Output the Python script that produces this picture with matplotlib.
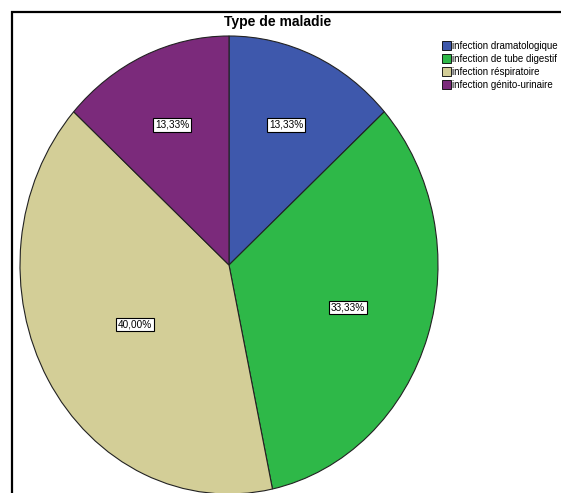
import matplotlib
matplotlib.use('Agg')
import matplotlib.pyplot as plt
import numpy as np
from matplotlib.patches import Rectangle

plt.rcParams['font.family'] = ['Liberation Sans', 'DejaVu Sans']

categories = ['infection dramatologique', 'infection de tube digestif',
              'infection réspiratoire', 'infection génito-urinaire']
counts = [2, 5, 6, 2]
colors = ['#3E58AC', '#2EB848', '#D3CE97', '#7B2A7B']
title = 'Type de maladie'

W, H = 561, 493
fig = plt.figure(figsize=(W / 100, H / 100), dpi=100)

# outer frame (cut off at right and bottom like the original)
fig.patches.append(Rectangle((12 / W, -0.1), 1.1, 1 - 12 / H + 0.1,
                             transform=fig.transFigure, fill=False,
                             edgecolor='black', linewidth=1.6))

ax = fig.add_axes([20 / W, (H - 494) / H, 418 / W, 458 / H])
wedges, texts, autotexts = ax.pie(
    counts, colors=colors, startangle=90, counterclock=False,
    autopct=lambda p: f'{p:.2f}%'.replace('.', ','),
    wedgeprops=dict(edgecolor='#222222', linewidth=0.8),
    textprops=dict(fontsize=7.2))
# labels sit near each slice's centroid
label_dist = [0.67, 0.6, 0.52, 0.67]
for w, t, d in zip(wedges, autotexts, label_dist):
    a = np.deg2rad((w.theta1 + w.theta2) / 2)
    t.set_position((d * np.cos(a), d * np.sin(a)))
    t.set_bbox(dict(facecolor='white', edgecolor='black', linewidth=0.8, pad=1.3))
ax.set_xlim(-1, 1)
ax.set_ylim(-1, 1)
ax.set_aspect('auto')
ax.axis('off')

fig.text(278 / W, 1 - 22 / H, title, ha='center', va='center',
         fontsize=10, fontweight='bold')

fig.legend(wedges, categories, loc='upper left',
           bbox_to_anchor=(437 / W, 1 - 36 / H), frameon=False,
           fontsize=7, handlelength=0.9, handleheight=1.0,
           handletextpad=0.12, labelspacing=0.3, borderpad=0)
for h in fig.legends[0].legend_handles:
    h.set_edgecolor('black')
    h.set_linewidth(0.6)

fig.savefig('out.png', dpi=100)
